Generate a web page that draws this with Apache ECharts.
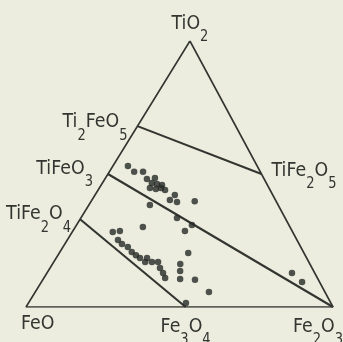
<!DOCTYPE html>
<html>
<head>
<meta charset="utf-8">
<script src="https://cdn.jsdelivr.net/npm/echarts@6/dist/echarts.min.js"></script>
<style>
  html, body { margin: 0; padding: 0; background: #ecedde; }
  #chart { width: 343px; height: 342px; }
</style>
</head>
<body>
<div id="chart"></div>
<script>
// FeO – Fe2O3 – TiO2 system, mol %. FeO is the remainder to 100.

// Analysed samples
const pointTiO2 = [
  53.0, 50.8, 50.8, 48.1, 48.5, 46.6, 46.2, 45.9, 44.7, 44.4, 44.7, 44.0,
  40.2, 42.1, 39.5, 38.3, 39.8, 33.5, 30.8, 28.6,
  28.2, 28.6, 30.1, 25.2, 23.7, 22.6, 20.7, 19.5, 18.4, 18.4, 16.9, 16.9,
  14.7, 12.8, 10.9, 16.9, 20.3, 16.2, 13.5, 10.5, 10.2, 5.6, 1.5,
  12.8, 9.4
];
const pointFe2O3 = [
  4.9, 8.1, 11.0, 13.7, 16.1, 16.1, 18.0, 19.8, 16.5, 18.6, 20.1, 21.8,
  25.4, 26.0, 28.1, 19.9, 33.7, 31.3, 37.6, 36.5,
  13.2, 15.3, 22.0, 16.5, 18.6, 21.1, 23.4, 25.4, 27.3, 29.6, 32.0, 34.0,
  35.8, 37.8, 39.5, 29.8, 42.0, 41.6, 43.0, 44.6, 49.6, 56.6, 51.3,
  79.8, 84.9
];

// Corners of the diagram (TiO2, FeO, Fe2O3)
const cornerTiO2 = [100, 0, 0];
const cornerFe2O3 = [0, 0, 100];

// Phase joins: start and end compositions
const joinStartTiO2 = [68, 50, 33];
const joinStartFe2O3 = [0, 0, 0];
const joinEndTiO2 = [50, 0, 0];
const joinEndFe2O3 = [50, 100, 52];

// Phase names and where they sit
const phaseNames = ['TiO2', 'Ti2FeO5', 'TiFeO3', 'TiFe2O4', 'TiFe2O5', 'FeO', 'Fe3O4', 'Fe2O3'];
const phaseTiO2 = [100, 68, 50, 33, 50, 0, 0, 0];
const phaseFe2O3 = [0, 0, 0, 0, 50, 0, 52, 100];

// Horizontal position of the TiO2 apex along the FeO–Fe2O3 base (percent)
const APEX_X = 53.4;
function toXY(tio2, fe2o3) {
  return [fe2o3 + tio2 * APEX_X / 100, tio2];
}

const INK = '#323530';
const FONT = '"DejaVu Sans", sans-serif';

const triangle = [0, 1, 2, 0].map(i => toXY(cornerTiO2[i], cornerFe2O3[i]));
const joins = joinStartTiO2.map((t, i) => ({
  coords: [toXY(t, joinStartFe2O3[i]), toXY(joinEndTiO2[i], joinEndFe2O3[i])]
}));
const points = pointTiO2.map((t, i) => toXY(t, pointFe2O3[i]));

const chart = echarts.init(document.getElementById('chart'), null, { renderer: 'canvas' });

chart.setOption({
  backgroundColor: '#ecedde',
  animation: false,
  grid: { left: 26, top: 41, width: 307, height: 266 },
  xAxis: { type: 'value', min: 0, max: 100, show: false },
  yAxis: { type: 'value', min: 0, max: 100, show: false },
  series: [
    {
      type: 'line',
      data: triangle,
      symbol: 'none',
      lineStyle: { color: INK, width: 1.6 },
      z: 2
    },
    {
      type: 'lines',
      coordinateSystem: 'cartesian2d',
      data: joins,
      lineStyle: { color: INK, width: 2.1, opacity: 1 },
      z: 2
    },
    {
      type: 'scatter',
      data: points,
      symbol: 'circle',
      symbolSize: 6.5,
      itemStyle: { color: '#262925' },
      z: 3
    }
  ]
});

// Formula text with numeric subscripts, in a narrow drafting style
function formulaRich(name) {
  return name.replace(/(\d+)|([^\d]+)/g, (m, d, w) => d ? '{s|' + d + '}' : '{m|' + w + '}');
}
const rich = {
  m: { fontSize: 20, lineHeight: 20, verticalAlign: 'top', fontFamily: FONT, fill: INK },
  s: { fontSize: 15, lineHeight: 15, padding: [16, 0, 0, 0], verticalAlign: 'top', fontFamily: FONT, fill: INK }
};
const NARROW = 0.87;
// Label placement relative to each phase position
const labelPlace = {
  'TiO2':    { align: 'center', dx: 0,   dy: -27 },
  'Ti2FeO5': { align: 'right',  dx: -10, dy: -14 },
  'TiFeO3':  { align: 'right',  dx: -15, dy: -15 },
  'TiFe2O4': { align: 'right',  dx: -9,  dy: -15 },
  'TiFe2O5': { align: 'left',   dx: 10,  dy: -13.5 },
  'FeO':     { align: 'left',   dx: -5,  dy: 7 },
  'Fe3O4':   { align: 'center', dx: 0,   dy: 10 },
  'Fe2O3':   { align: 'right',  dx: 10,  dy: 10 }
};

const labels = phaseNames.map((name, i) => {
  const p = chart.convertToPixel({ gridIndex: 0 }, toXY(phaseTiO2[i], phaseFe2O3[i]));
  const pl = labelPlace[name];
  return {
    type: 'text',
    x: p[0] + pl.dx,
    y: p[1] + pl.dy,
    scaleX: NARROW,
    z: 10,
    style: {
      text: formulaRich(name),
      rich: rich,
      align: pl.align,
      verticalAlign: 'top',
      fill: INK,
      font: '20px ' + FONT
    }
  };
});

chart.setOption({ graphic: labels });
</script>
</body>
</html>
